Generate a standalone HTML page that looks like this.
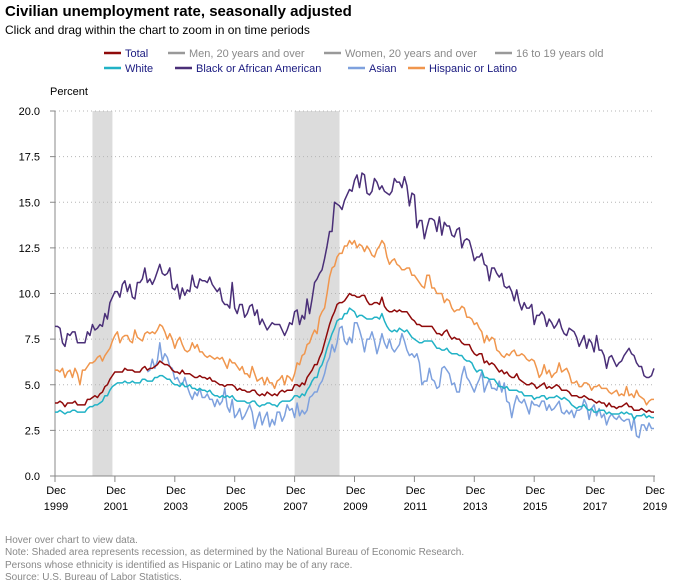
<!DOCTYPE html>
<html><head><meta charset="utf-8">
<style>
body{margin:0;background:#fff;font-family:"Liberation Sans",sans-serif;}
#wrap{position:relative;width:677px;height:585px;overflow:hidden;}
.t{position:absolute;white-space:nowrap;}
</style></head>
<body>
<div id="wrap">
<div class="t" style="left:5px;top:3px;font-size:15px;font-weight:bold;color:#000;">Civilian unemployment rate, seasonally adjusted</div>
<div class="t" style="left:5px;top:23px;font-size:12px;color:#000;">Click and drag within the chart to zoom in on time periods</div>
<svg id="chart" width="677" height="585" style="position:absolute;left:0;top:0"></svg>
<div class="t" style="left:5px;top:535px;font-size:10px;color:#888;">Hover over chart to view data.</div>
<div class="t" style="left:5px;top:547px;font-size:10px;color:#888;">Note: Shaded area represents recession, as determined by the National Bureau of Economic Research.</div>
<div class="t" style="left:5px;top:560px;font-size:10px;color:#888;">Persons whose ethnicity is identified as Hispanic or Latino may be of any race.</div>
<div class="t" style="left:5px;top:572px;font-size:10px;color:#888;">Source: U.S. Bureau of Labor Statistics.</div>
</div>
<script>
// Months indexed from Dec 1999 (index 0) to Dec 2019 (index 240)
const yTicks = [0, 2.5, 5, 7.5, 10, 12.5, 15, 17.5, 20];
const xTickYears = ["1999","2001","2003","2005","2007","2009","2011","2013","2015","2017","2019"];
const recessionStarts = [15, 96];
const recessionEnds = [23, 114];
const totalRate = [4.0,
4.0,4.1,4.0,3.8,4.0,4.0,4.0,4.1,3.9,3.9,3.9,3.9,
4.2,4.2,4.3,4.4,4.3,4.5,4.6,4.9,5.0,5.3,5.5,5.7,
5.7,5.7,5.7,5.9,5.8,5.8,5.8,5.7,5.7,5.7,5.9,6.0,
5.8,5.9,5.9,6.0,6.1,6.3,6.2,6.1,6.1,6.0,5.8,5.7,
5.7,5.6,5.8,5.6,5.6,5.6,5.5,5.4,5.4,5.5,5.4,5.4,
5.3,5.4,5.2,5.2,5.1,5.0,5.0,4.9,5.0,5.0,5.0,4.9,
4.7,4.8,4.7,4.7,4.6,4.6,4.7,4.7,4.5,4.4,4.5,4.4,
4.6,4.5,4.4,4.5,4.4,4.6,4.7,4.6,4.7,4.7,4.7,5.0,
5.0,4.9,5.1,5.0,5.4,5.6,5.8,6.1,6.1,6.5,6.8,7.3,
7.8,8.3,8.7,9.0,9.4,9.5,9.5,9.6,9.8,10.0,9.9,9.9,
9.8,9.8,9.9,9.9,9.6,9.4,9.4,9.5,9.5,9.4,9.8,9.3,
9.1,9.0,9.0,9.1,9.0,9.1,9.0,9.0,9.0,8.8,8.6,8.5,
8.3,8.3,8.2,8.2,8.2,8.2,8.2,8.0,7.8,7.8,7.7,7.9,
8.0,7.7,7.5,7.6,7.5,7.5,7.3,7.2,7.2,7.2,6.9,6.7,
6.6,6.7,6.7,6.2,6.3,6.1,6.2,6.1,5.9,5.7,5.8,5.6,
5.7,5.5,5.4,5.4,5.6,5.3,5.2,5.1,5.0,5.0,5.1,5.0,
4.8,4.9,5.0,5.1,4.8,4.9,4.8,4.9,5.0,4.9,4.7,4.7,
4.7,4.6,4.4,4.4,4.4,4.3,4.3,4.4,4.3,4.2,4.2,4.1,
4.0,4.1,4.0,4.0,3.8,4.0,3.8,3.8,3.7,3.8,3.8,3.9,
4.0,3.8,3.8,3.6,3.6,3.6,3.7,3.6,3.5,3.6,3.5,3.5];
const whiteRate = [3.5,
3.5,3.6,3.5,3.4,3.5,3.5,3.6,3.6,3.5,3.5,3.5,3.5,
3.7,3.8,3.8,3.9,3.9,4.0,4.1,4.4,4.4,4.7,4.9,5.0,
5.1,5.1,5.1,5.2,5.1,5.1,5.2,5.1,5.1,5.1,5.3,5.3,
5.2,5.2,5.2,5.4,5.4,5.5,5.5,5.4,5.3,5.3,5.1,5.0,
5.0,4.9,5.1,4.9,4.9,5.0,4.8,4.8,4.7,4.8,4.7,4.7,
4.6,4.7,4.5,4.4,4.4,4.3,4.4,4.3,4.4,4.3,4.4,4.2,
4.1,4.1,4.1,4.1,4.0,4.0,4.1,4.1,3.9,3.8,3.9,3.9,
4.0,4.0,3.9,3.9,3.8,4.0,4.1,4.1,4.1,4.1,4.2,4.4,
4.4,4.3,4.5,4.4,4.7,4.9,5.2,5.4,5.4,5.9,6.1,6.5,
7.0,7.4,7.8,8.1,8.5,8.6,8.6,8.9,8.9,9.2,9.1,9.0,
8.7,8.8,8.8,8.7,8.6,8.6,8.6,8.7,8.7,8.6,8.9,8.5,
8.2,8.0,7.9,8.0,7.9,8.1,8.0,7.9,8.0,7.8,7.6,7.5,
7.4,7.3,7.3,7.4,7.4,7.4,7.4,7.2,7.0,7.0,6.9,6.9,
7.0,6.8,6.7,6.7,6.7,6.6,6.6,6.4,6.3,6.3,6.2,5.9,
5.7,5.8,5.8,5.4,5.4,5.3,5.3,5.3,5.1,4.9,4.9,4.8,
4.9,4.7,4.7,4.7,4.7,4.6,4.6,4.4,4.4,4.4,4.4,4.2,
4.3,4.3,4.4,4.4,4.2,4.3,4.3,4.3,4.4,4.3,4.2,4.3,
4.2,4.1,3.9,3.8,3.7,3.8,3.8,3.9,3.7,3.6,3.7,3.5,
3.5,3.6,3.6,3.6,3.4,3.5,3.4,3.4,3.4,3.4,3.5,3.4,
3.5,3.4,3.4,3.1,3.3,3.3,3.3,3.4,3.2,3.3,3.2,3.2];
const blackRate = [8.2,
8.2,8.1,7.3,7.1,7.8,7.7,7.9,7.9,7.3,7.3,7.3,7.3,
7.9,7.7,8.3,8.0,8.1,8.3,8.2,8.9,8.6,9.5,9.8,10.1,
10.1,9.8,10.5,10.7,10.1,10.5,9.8,9.7,10.6,10.6,10.8,11.4,
10.6,10.8,10.5,10.8,11.2,11.6,11.1,11.0,11.1,11.4,10.3,10.2,
10.5,9.7,10.3,9.9,10.2,10.1,11.0,10.4,10.3,10.8,10.7,10.7,
10.6,10.9,10.5,10.3,10.1,10.3,9.6,9.4,9.4,9.2,10.6,9.2,
8.9,9.4,9.4,8.7,8.9,9.3,9.4,8.8,9.1,8.3,8.6,8.3,
8.0,8.2,8.4,8.3,8.3,8.3,8.0,7.7,8.0,8.4,8.3,9.0,
9.1,8.3,8.8,8.6,9.7,8.9,9.7,10.6,10.8,11.1,11.3,11.9,
12.6,13.4,13.4,15.0,14.9,14.8,14.6,15.1,15.4,15.7,15.6,16.2,
16.5,15.8,16.6,16.5,15.5,15.4,15.6,16.3,16.1,15.7,15.9,15.6,
15.5,15.4,15.6,16.3,16.1,16.1,15.8,16.4,15.9,14.8,15.5,15.4,
13.6,14.0,14.0,13.0,13.6,14.1,14.1,14.0,13.4,14.2,13.2,13.9,
13.7,13.7,13.2,13.1,13.5,13.6,12.5,12.9,13.0,12.9,12.4,11.8,
12.0,12.0,12.2,11.6,11.5,10.7,11.4,11.4,11.1,10.9,11.1,10.4,
10.3,10.4,10.1,9.6,10.2,9.5,9.1,9.5,9.2,9.2,9.4,8.3,
8.8,8.8,9.0,8.8,8.2,8.6,8.4,8.1,8.3,8.6,8.1,7.8,
7.7,8.1,8.0,7.9,7.6,7.1,7.4,7.7,7.0,7.5,7.3,6.8,
7.7,6.9,6.9,6.6,5.9,6.5,6.6,6.3,6.0,6.2,6.3,6.6,
6.8,7.0,6.7,6.6,6.2,6.0,6.0,5.5,5.4,5.4,5.5,5.9];
const asianStart = 37; // Jan 2003
const asianRate = [
5.7,5.8,6.4,5.9,6.3,7.3,6.3,6.7,6.5,6.0,5.9,5.3,
5.4,5.1,5.0,5.4,4.9,4.5,4.2,4.6,4.4,4.8,4.3,4.3,
4.5,4.2,4.2,3.8,4.2,3.9,4.1,4.8,3.8,3.5,4.2,3.2,
3.4,3.7,3.1,3.3,3.6,3.9,3.5,2.6,3.1,3.5,2.8,3.2,
3.5,2.7,3.1,2.8,3.5,3.5,3.0,3.3,3.9,3.6,3.7,3.2,
4.0,3.3,3.6,3.4,3.6,4.3,4.4,4.6,4.6,5.0,5.2,5.6,
6.2,6.5,7.2,6.8,7.3,8.1,8.2,7.4,7.2,7.6,7.3,8.4,
8.4,8.0,7.5,6.8,7.5,7.5,7.9,7.4,6.7,7.2,7.8,7.3,
7.0,7.5,7.0,6.8,7.0,7.2,7.8,7.4,6.9,6.6,6.7,6.5,
6.7,6.2,5.0,5.2,5.2,5.9,5.3,5.2,4.8,4.9,5.9,6.0,
5.8,5.6,5.0,5.1,4.6,4.6,5.5,6.0,5.4,5.2,4.9,4.6,
5.0,5.3,5.7,4.6,5.0,5.3,4.8,4.8,4.7,5.2,4.6,5.1,
4.1,4.0,3.2,3.9,4.4,4.1,4.0,4.2,3.8,3.4,4.1,3.9,
3.9,3.8,4.1,4.1,3.6,3.9,3.6,3.7,3.9,4.1,3.5,3.4,
3.6,3.4,3.6,3.2,3.6,3.6,3.7,4.2,3.9,3.1,3.7,3.9,
3.3,3.7,3.2,3.4,2.8,3.2,3.4,3.2,3.1,3.3,3.1,3.0,
3.1,3.1,2.5,3.2,2.2,2.1,2.8,2.8,2.5,2.9,2.6,2.6];
const hispanicRate = [5.8,
5.8,5.7,5.9,5.4,5.7,5.8,5.4,5.9,5.6,5.0,5.8,5.8,
6.0,6.2,6.2,6.3,6.5,6.6,6.3,6.6,6.8,7.0,7.4,7.7,
7.9,7.3,7.6,7.7,7.7,7.4,7.3,8.0,7.6,7.5,7.4,7.8,
7.9,7.8,7.9,7.8,8.0,8.3,8.2,7.9,7.5,7.8,7.5,7.0,
7.4,7.6,7.2,6.9,6.8,6.9,7.3,7.0,7.2,6.8,6.8,6.6,
6.5,6.6,6.5,6.4,6.5,6.4,6.5,6.2,5.9,6.4,6.2,6.2,
6.0,5.8,6.0,5.6,5.6,5.4,6.0,5.6,5.2,5.3,5.4,5.0,
5.4,5.1,5.1,4.8,5.2,5.3,5.5,5.0,5.5,5.4,5.2,5.6,
6.2,6.1,6.6,6.7,7.2,7.3,7.7,8.0,7.8,8.7,9.0,9.2,
10.0,10.9,11.4,11.5,12.0,12.2,12.2,12.6,12.6,12.9,12.7,12.9,
12.5,12.7,12.6,12.3,12.6,12.4,12.1,12.0,12.4,12.6,12.9,12.7,
12.0,11.6,11.8,11.9,11.6,11.5,11.3,11.3,11.4,11.4,11.0,11.0,
10.8,10.6,10.4,10.3,11.0,11.0,10.3,10.3,10.0,10.0,10.0,9.5,
9.7,9.6,9.2,9.0,9.1,9.1,9.3,9.2,8.7,8.7,8.6,8.3,
8.4,8.1,7.9,7.3,7.7,7.4,7.6,7.5,6.9,6.8,6.6,6.5,
6.7,6.6,6.8,6.9,6.6,6.6,6.7,6.6,6.4,6.3,6.4,6.3,
5.9,5.4,5.6,6.1,5.6,5.8,5.4,5.6,5.7,6.2,5.7,5.8,
5.9,5.6,5.1,5.1,5.2,4.9,4.9,5.1,5.1,5.0,4.7,4.9,
4.9,5.0,4.8,4.8,4.8,4.6,4.5,4.6,4.7,4.4,4.5,4.4,
4.9,4.4,4.5,4.3,4.7,4.4,4.3,4.2,3.9,4.1,4.2,4.2];

const NS = "http://www.w3.org/2000/svg";
const svg = document.getElementById("chart");
const X0 = 55, X1 = 654, Y0 = 476, Y1 = 111, NMONTHS = 240, YMAX = 20;
function xScale(i){ return X0 + (X1 - X0) * i / NMONTHS; }
function yScale(v){ return Y0 - (Y0 - Y1) * v / YMAX; }
function mk(tag, attrs){ const e = document.createElementNS(NS, tag); for (const k in attrs) e.setAttribute(k, attrs[k]); svg.appendChild(e); return e; }

// recession shading
for (let r = 0; r < recessionStarts.length; r++) {
  const rect = mk("rect", {x: xScale(recessionStarts[r]), y: Y1, width: xScale(recessionEnds[r]) - xScale(recessionStarts[r]), height: Y0 - Y1, fill: "#dcdcdc"});
  
  
}
// grid + y labels
yTicks.forEach(v => {
  const y = yScale(v);
  if (v > 0) {
    const g = mk("line", {x1: X0, x2: X1, y1: y, y2: y, stroke: "#b5b5b5", "stroke-width": 1, "stroke-dasharray": "1,3"});
    
    
  }
  const tk = mk("line", {x1: X0 - 5, x2: X0, y1: y, y2: y, stroke: "#888", "stroke-width": 1});
  
  
  const t = mk("text", {x: 40, y: y + 4, "text-anchor": "end", "font-size": 11, fill: "#000", "font-family": "Liberation Sans, sans-serif"});
  t.textContent = v.toFixed(1);
  
  
});
const yl = mk("text", {x: 50, y: 95, "font-size": 11, fill: "#000", "font-family": "Liberation Sans, sans-serif"});
yl.textContent = "Percent";


// axes
const ax = mk("line", {x1: X0, x2: X0, y1: Y1, y2: Y0, stroke: "#888", "stroke-width": 1});


const axx = mk("line", {x1: X0, x2: X1 + 1, y1: Y0, y2: Y0, stroke: "#888", "stroke-width": 1});


xTickYears.forEach((yr, k) => {
  const x = xScale(k * 24);
  const tk = mk("line", {x1: x, x2: x, y1: Y0, y2: Y0 + 6, stroke: "#888", "stroke-width": 1});
  
  
  const t1 = mk("text", {x: x + 1, y: 494, "text-anchor": "middle", "font-size": 11, fill: "#000", "font-family": "Liberation Sans, sans-serif"});
  t1.textContent = "Dec";
  
  
  const t2 = mk("text", {x: x + 1, y: 510, "text-anchor": "middle", "font-size": 11, fill: "#000", "font-family": "Liberation Sans, sans-serif"});
  t2.textContent = yr;
  
  
});
// series
function drawSeries(arr, start, color, name){
  let d = "";
  arr.forEach((v, i) => { d += (i ? "L" : "M") + xScale(start + i).toFixed(2) + "," + yScale(v).toFixed(2); });
  const p = mk("path", {d: d, fill: "none", stroke: color, "stroke-width": 1.5, "stroke-linejoin": "round"});
  
  
}
drawSeries(asianRate, asianStart, "#7ea1de", "series-asian");
drawSeries(whiteRate, 0, "#21b2c6", "series-white");
drawSeries(totalRate, 0, "#8f0a0a", "series-total");
drawSeries(hispanicRate, 0, "#f0964d", "series-hispanic");
drawSeries(blackRate, 0, "#4a2f78", "series-black");

// legend
const legendItems = [
  ["Total", "#8f0a0a", 104, 53, true, "legend-total"],
  ["Men, 20 years and over", "#999", 168, 53, false, "legend-men"],
  ["Women, 20 years and over", "#999", 324, 53, false, "legend-women"],
  ["16 to 19 years old", "#999", 495, 53, false, "legend-teens"],
  ["White", "#21b2c6", 104, 68, true, "legend-white"],
  ["Black or African American", "#4a2f78", 175, 68, true, "legend-black"],
  ["Asian", "#7ea1de", 348, 68, true, "legend-asian"],
  ["Hispanic or Latino", "#f0964d", 408, 68, true, "legend-hispanic"]
];
legendItems.forEach(it => {
  const ln = mk("line", {x1: it[2], x2: it[2] + 17, y1: it[3], y2: it[3], stroke: it[1], "stroke-width": 2.5});
  
  
  const t = mk("text", {x: it[2] + 21, y: it[3] + 4, "font-size": 11, fill: it[4] ? "#1a1a80" : "#8a8a8a", "font-family": "Liberation Sans, sans-serif"});
  t.textContent = it[0];
  
  
});
</script>
</body></html>
